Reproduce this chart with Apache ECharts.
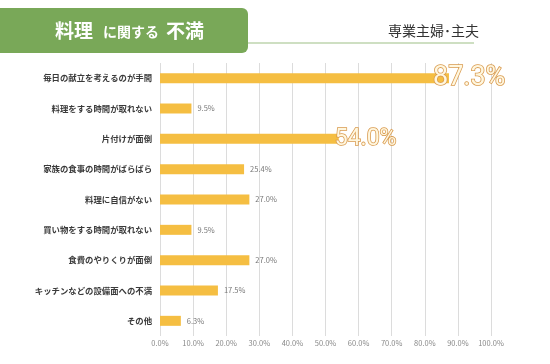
<!DOCTYPE html>
<html><head><meta charset="utf-8">
<script src="https://cdn.jsdelivr.net/npm/echarts@6/dist/echarts.min.js"></script>
<style>html,body{margin:0;padding:0;background:#fff}#c{width:550px;height:364px}</style>
</head><body><div id="c"></div>
<script>
const categories = ['毎日の献立を考えるのが手間','料理をする時間が取れない','片付けが面倒','家族の食事の時間がばらばら','料理に自信がない','買い物をする時間が取れない','食費のやりくりが面倒','キッチンなどの設備面への不満','その他'];
const values = [87.3, 9.5, 54.0, 25.4, 27.0, 9.5, 27.0, 17.5, 6.3];
const bigLabels = [true, false, true, false, false, false, false, false, false];
const xTicks = [0,10,20,30,40,50,60,70,80,90,100];

const FONT = '"Noto Sans CJK JP", "Noto Sans", sans-serif';
const data = values.map((v, i) => {
  if (!bigLabels[i]) return v;
  const big = v > 80;
  return {
    value: v,
    label: {
      fontSize: big ? 27 : 23,
      color: '#FFF7DF',
      textBorderColor: '#D99A4E',
      textBorderWidth: 1.6,
      fontFamily: 'Roboto, sans-serif',
      offset: big ? [-22, 0] : [-10, 0]
    }
  };
});

const chart = echarts.init(document.getElementById('c'));
chart.setOption({
  animation: false,
  graphic: [
    { type: 'rect', shape: { x: -10, y: 8, width: 258, height: 45, r: 6 }, style: { fill: '#79A858' } },
    { type: 'line', shape: { x1: 248, y1: 43, x2: 474, y2: 43 }, style: { stroke: '#9DBF85', lineWidth: 1 } },
    { type: 'text', x: 55, y: 31, style: { text: '料理', fill: '#fff', font: 'bold 19px ' + FONT, verticalAlign: 'middle' } },
    { type: 'text', x: 103, y: 32, style: { text: 'に関する', fill: '#fff', font: 'bold 14px ' + FONT, verticalAlign: 'middle' } },
    { type: 'text', x: 166, y: 31, style: { text: '不満', fill: '#fff', font: 'bold 19px ' + FONT, verticalAlign: 'middle' } },
    { type: 'text', x: 388, y: 31, style: { text: '専業主婦･主夫', fill: '#333', font: '14px ' + FONT, verticalAlign: 'middle' } }
  ],
  grid: { left: 160, right: 59, top: 63, bottom: 28, containLabel: false },
  xAxis: {
    type: 'value', min: 0, max: 100, interval: 10,
    axisLine: { show: false }, axisTick: { show: false },
    splitLine: { lineStyle: { color: '#DCDCDC', width: 1 } },
    axisLabel: { formatter: v => v.toFixed(1) + '%', color: '#888', fontSize: 7.5, fontFamily: FONT, margin: 3 }
  },
  yAxis: {
    type: 'category', data: categories, inverse: true,
    axisLine: { show: false }, axisTick: { show: false },
    axisLabel: { color: '#3a3a3a', fontSize: 8.4, fontWeight: 'bold', fontFamily: FONT, margin: 8 }
  },
  series: [{
    type: 'bar', data: data, barWidth: 10,
    itemStyle: { color: '#F5BE42' },
    label: {
      show: true, position: 'right', distance: 6,
      formatter: p => p.value.toFixed(1) + '%',
      color: '#777', fontSize: 7.5, fontFamily: FONT
    }
  }]
});
</script></body></html>
